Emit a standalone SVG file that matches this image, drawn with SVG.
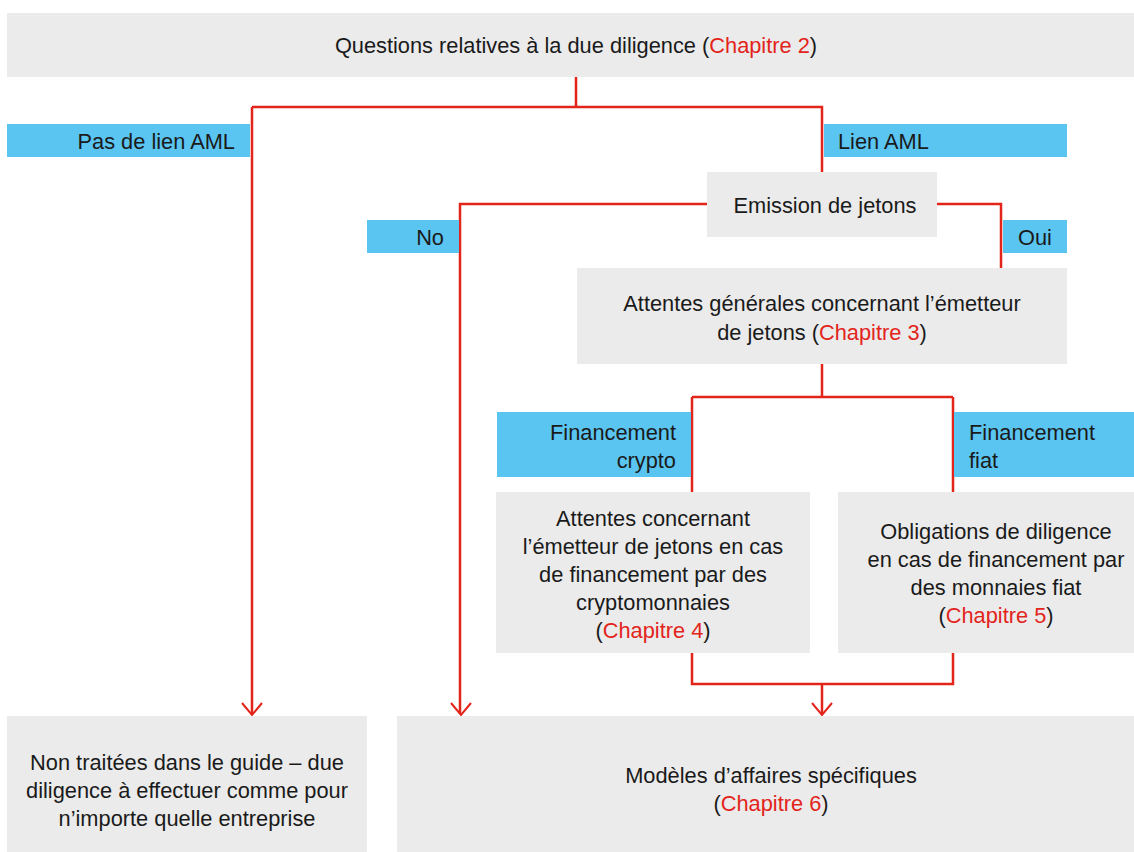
<svg xmlns="http://www.w3.org/2000/svg" width="1134" height="852" viewBox="0 0 1134 852">
<style>
.box{fill:#ebebeb}
.tag{fill:#5bc5f2}
text{font-family:"Liberation Sans",Arial,sans-serif;font-size:21.8px;fill:#1a1a1a}
.c{text-anchor:middle}
.r{text-anchor:end}
.red{fill:#e3241b}
.ln{fill:none;stroke:#e3241b;stroke-width:2.5}
.ar{fill:none;stroke:#e3241b;stroke-width:2}
</style>
<rect width="1134" height="852" fill="#ffffff"/>
<g id="connectors">
<path class="ln" d="M576,77 V107 M252,107 H822 V172 M252,107 V714 M707,204 H460 V714 M937,204 H1001 V268 M822,364 V397 M692,397 H953 M692,397 V492 M953,397 V492 M692,653 V684 H953 V653 M822,684 V714"/>
<path class="ar" d="M242,703 L252,715 L262,703 M451,703 L461,715 L471,703 M812,703 L822,715 L832,703"/>
</g>
<g id="n-questions">
<rect class="box" x="7" y="13" width="1127" height="64"/>
<text class="c" x="576" y="53">Questions relatives à la due diligence (<tspan class="red">Chapitre 2</tspan>)</text>
</g>
<g id="t-pas-aml">
<rect class="tag" x="7" y="124" width="243" height="33"/>
<text class="r" x="235" y="149">Pas de lien AML</text>
</g>
<g id="t-lien-aml">
<rect class="tag" x="824" y="124" width="243" height="33"/>
<text x="838" y="149">Lien AML</text>
</g>
<g id="n-emission">
<rect class="box" x="707" y="172" width="230" height="65"/>
<text class="c" x="825" y="213">Emission de jetons</text>
</g>
<g id="t-no">
<rect class="tag" x="367" y="220" width="92" height="33"/>
<text class="r" x="444" y="245">No</text>
</g>
<g id="t-oui">
<rect class="tag" x="1003" y="220" width="64" height="33"/>
<text class="c" x="1035" y="245">Oui</text>
</g>
<g id="n-attentes-gen">
<rect class="box" x="577" y="268" width="490" height="96"/>
<text class="c" x="822" y="311">Attentes générales concernant l’émetteur</text>
<text class="c" x="822" y="340">de jetons (<tspan class="red">Chapitre 3</tspan>)</text>
</g>
<g id="t-fin-crypto">
<rect class="tag" x="497" y="412" width="194" height="65"/>
<text class="r" x="676" y="440">Financement</text>
<text class="r" x="676" y="468">crypto</text>
</g>
<g id="t-fin-fiat">
<rect class="tag" x="954" y="412" width="180" height="65"/>
<text x="969" y="440">Financement</text>
<text x="969" y="468">fiat</text>
</g>
<g id="n-crypto">
<rect class="box" x="496" y="492" width="314" height="161"/>
<text class="c" x="653" y="526">Attentes concernant</text>
<text class="c" x="653" y="554">l’émetteur de jetons en cas</text>
<text class="c" x="653" y="582">de financement par des</text>
<text class="c" x="653" y="610">cryptomonnaies</text>
<text class="c" x="653" y="638">(<tspan class="red">Chapitre 4</tspan>)</text>
</g>
<g id="n-fiat">
<rect class="box" x="838" y="492" width="296" height="161"/>
<text class="c" x="996" y="539">Obligations de diligence</text>
<text class="c" x="996" y="567">en cas de financement par</text>
<text class="c" x="996" y="595">des monnaies fiat</text>
<text class="c" x="996" y="623">(<tspan class="red">Chapitre 5</tspan>)</text>
</g>
<g id="n-non-traitees">
<rect class="box" x="7" y="716" width="360" height="136"/>
<text class="c" x="187" y="770">Non traitées dans le guide – due</text>
<text class="c" x="187" y="798">diligence à effectuer comme pour</text>
<text class="c" x="187" y="826">n’importe quelle entreprise</text>
</g>
<g id="n-modeles">
<rect class="box" x="397" y="716" width="737" height="136"/>
<text class="c" x="771" y="783">Modèles d’affaires spécifiques</text>
<text class="c" x="771" y="811">(<tspan class="red">Chapitre 6</tspan>)</text>
</g>
</svg>
